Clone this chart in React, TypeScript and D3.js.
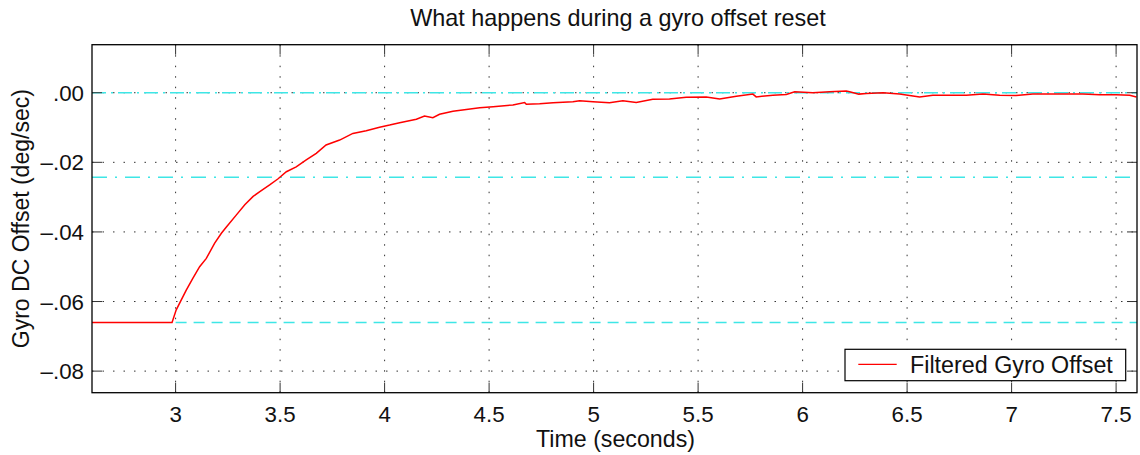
import React from "react";
import * as d3 from "d3";

const title = "What happens during a gyro offset reset";
const xLabel = "Time (seconds)";
const yLabel = "Gyro DC Offset (deg/sec)";
const legendLabel = "Filtered Gyro Offset";

const xTicks = [3, 3.5, 4, 4.5, 5, 5.5, 6, 6.5, 7, 7.5];
const xTickLabels = ["3", "3.5", "4", "4.5", "5", "5.5", "6", "6.5", "7", "7.5"];
const yTicks = [0, -0.02, -0.04, -0.06, -0.08];
const yTickLabels = [".00", "\u2013.02", "\u2013.04", "\u2013.06", "\u2013.08"];

const timeValues = [
  2.6, 2.983, 3.003, 3.051, 3.083, 3.115, 3.147, 3.187, 3.219, 3.243, 3.291, 3.331,
  3.371, 3.403, 3.45, 3.489, 3.53, 3.577, 3.625, 3.673, 3.72, 3.785, 3.848, 3.912,
  3.976, 4.024, 4.072, 4.152, 4.191, 4.231, 4.263, 4.327, 4.391, 4.455, 4.519, 4.614,
  4.67, 4.678, 4.742, 4.806, 4.901, 4.933, 4.997, 5.076, 5.14, 5.204, 5.283, 5.363,
  5.443, 5.539, 5.603, 5.683, 5.762, 5.778, 5.858, 5.922, 5.962, 6.049, 6.129, 6.209,
  6.225, 6.269, 6.305, 6.385, 6.464, 6.56, 6.623, 6.703, 6.783, 6.863, 6.943, 7.022,
  7.102, 7.182, 7.262, 7.341, 7.421, 7.501, 7.565, 7.597,
];
const offsetValues = [
  -0.066, -0.066, -0.0624, -0.0567, -0.0533, -0.05, -0.0476, -0.0432, -0.0404, -0.0386,
  -0.0351, -0.0322, -0.0298, -0.0284, -0.0265, -0.0248, -0.0227, -0.0213, -0.0193,
  -0.0174, -0.015, -0.0136, -0.0117, -0.0109, -0.0099, -0.0093, -0.0086, -0.0076,
  -0.0067, -0.0072, -0.0062, -0.0053, -0.0048, -0.0043, -0.004, -0.0035, -0.0028,
  -0.0033, -0.0032, -0.0029, -0.0026, -0.0023, -0.0026, -0.0029, -0.0023, -0.0028,
  -0.0019, -0.0018, -0.0013, -0.0012, -0.0018, -0.001, -0.0004, -0.0012, -0.0007,
  -0.0005, 0.0003, 0.0, 0.0003, 0.0005, 0.0003, -0.0004, -0.0002, 0.0, -0.0004,
  -0.0012, -0.0007, -0.0007, -0.0007, -0.0004, -0.0007, -0.0008, -0.0004, -0.0004,
  -0.0004, -0.0004, -0.0006, -0.0006, -0.0007, -0.0012,
];

const refLevels = [0, -0.0243, -0.066];
const refStarts = [2.6, 2.6, 3.0];
const refDashes = ["14,5,2,5", "15,8,2,8", "11,7"];

const W = 1140;
const H = 455;
const M = { left: 92, top: 44.7, right: 1137, bottom: 392.7 };
const FONT = "'Liberation Sans', Arial, Helvetica, sans-serif";

export default function App() {
  const x = d3.scaleLinear().domain([2.6, 7.6]).range([M.left, M.right]);
  const y = d3.scaleLinear().domain([-0.0862, 0.0138]).range([M.bottom, M.top]);

  const pts: [number, number][] = timeValues.map((t, i) => [t, offsetValues[i]]);
  const line = d3
    .line<[number, number]>()
    .x((d) => x(d[0]))
    .y((d) => y(d[1]));

  const tickLen = 10;

  return (
    <svg
      width={W}
      height={H}
      style={{ position: "absolute", left: 0, top: 0, background: "#fff" }}
      fontFamily={FONT}
    >
      <rect x={0} y={0} width={W} height={H} fill="#fff" />
      {xTicks.map((t, i) => (
        <line
          key={"gx" + i}
          x1={x(t)}
          x2={x(t)}
          y1={M.top}
          y2={M.bottom}
          stroke="#333"
          strokeWidth={1}
          strokeDasharray="1.5,9"
        />
      ))}
      {yTicks.map((v, i) => (
        <line
          key={"gy" + i}
          x1={M.left}
          x2={M.right}
          y1={y(v)}
          y2={y(v)}
          stroke="#333"
          strokeWidth={1}
          strokeDasharray="1.5,9"
        />
      ))}
      {refLevels.map((v, i) => (
        <line
          key={"r" + i}
          x1={x(refStarts[i])}
          x2={M.right}
          y1={y(v)}
          y2={y(v)}
          stroke="#3ee6e6"
          strokeWidth={1.5}
          strokeDasharray={refDashes[i]}
        />
      ))}
      <path d={line(pts) || ""} fill="none" stroke="#ff0000" strokeWidth={1.5} />
      {xTicks.map((t, i) => (
        <g key={"tx" + i}>
          <line x1={x(t)} x2={x(t)} y1={M.bottom} y2={M.bottom - tickLen} stroke="#333" strokeWidth={1} />
          <line x1={x(t)} x2={x(t)} y1={M.top} y2={M.top + tickLen} stroke="#333" strokeWidth={1} />
          <text x={x(t)} y={421.5} textAnchor="middle" fontSize={22.3} fill="#111">
            {xTickLabels[i]}
          </text>
        </g>
      ))}
      {yTicks.map((v, i) => (
        <g key={"ty" + i}>
          <line x1={M.left} x2={M.left + tickLen} y1={y(v)} y2={y(v)} stroke="#333" strokeWidth={1} />
          <line x1={M.right} x2={M.right - tickLen} y1={y(v)} y2={y(v)} stroke="#333" strokeWidth={1} />
          <text x={84} y={y(v) + 8} textAnchor="end" fontSize={22.3} fill="#111">
            {yTickLabels[i]}
          </text>
        </g>
      ))}
      <rect
        x={M.left}
        y={M.top}
        width={M.right - M.left}
        height={M.bottom - M.top}
        fill="none"
        stroke="#000"
        strokeWidth={1.3}
      />
      <rect x={845} y={349.3} width={280.7} height={31.4} fill="#fff" stroke="#000" strokeWidth={1.2} />
      <line x1={858.3} x2={896.7} y1={364.3} y2={364.3} stroke="#ff0000" strokeWidth={1.2} />
      <text x={910} y={372.7} fontSize={23.3} fill="#111">
        {legendLabel}
      </text>
      <text x={618} y={26} textAnchor="middle" fontSize={23.4} fill="#111">
        {title}
      </text>
      <text x={615.5} y={447} textAnchor="middle" fontSize={23.2} fill="#111">
        {xLabel}
      </text>
      <text
        transform={`translate(29, ${(M.top + M.bottom) / 2}) rotate(-90)`}
        textAnchor="middle"
        fontSize={23}
        fill="#111"
      >
        {yLabel}
      </text>
    </svg>
  );
}
